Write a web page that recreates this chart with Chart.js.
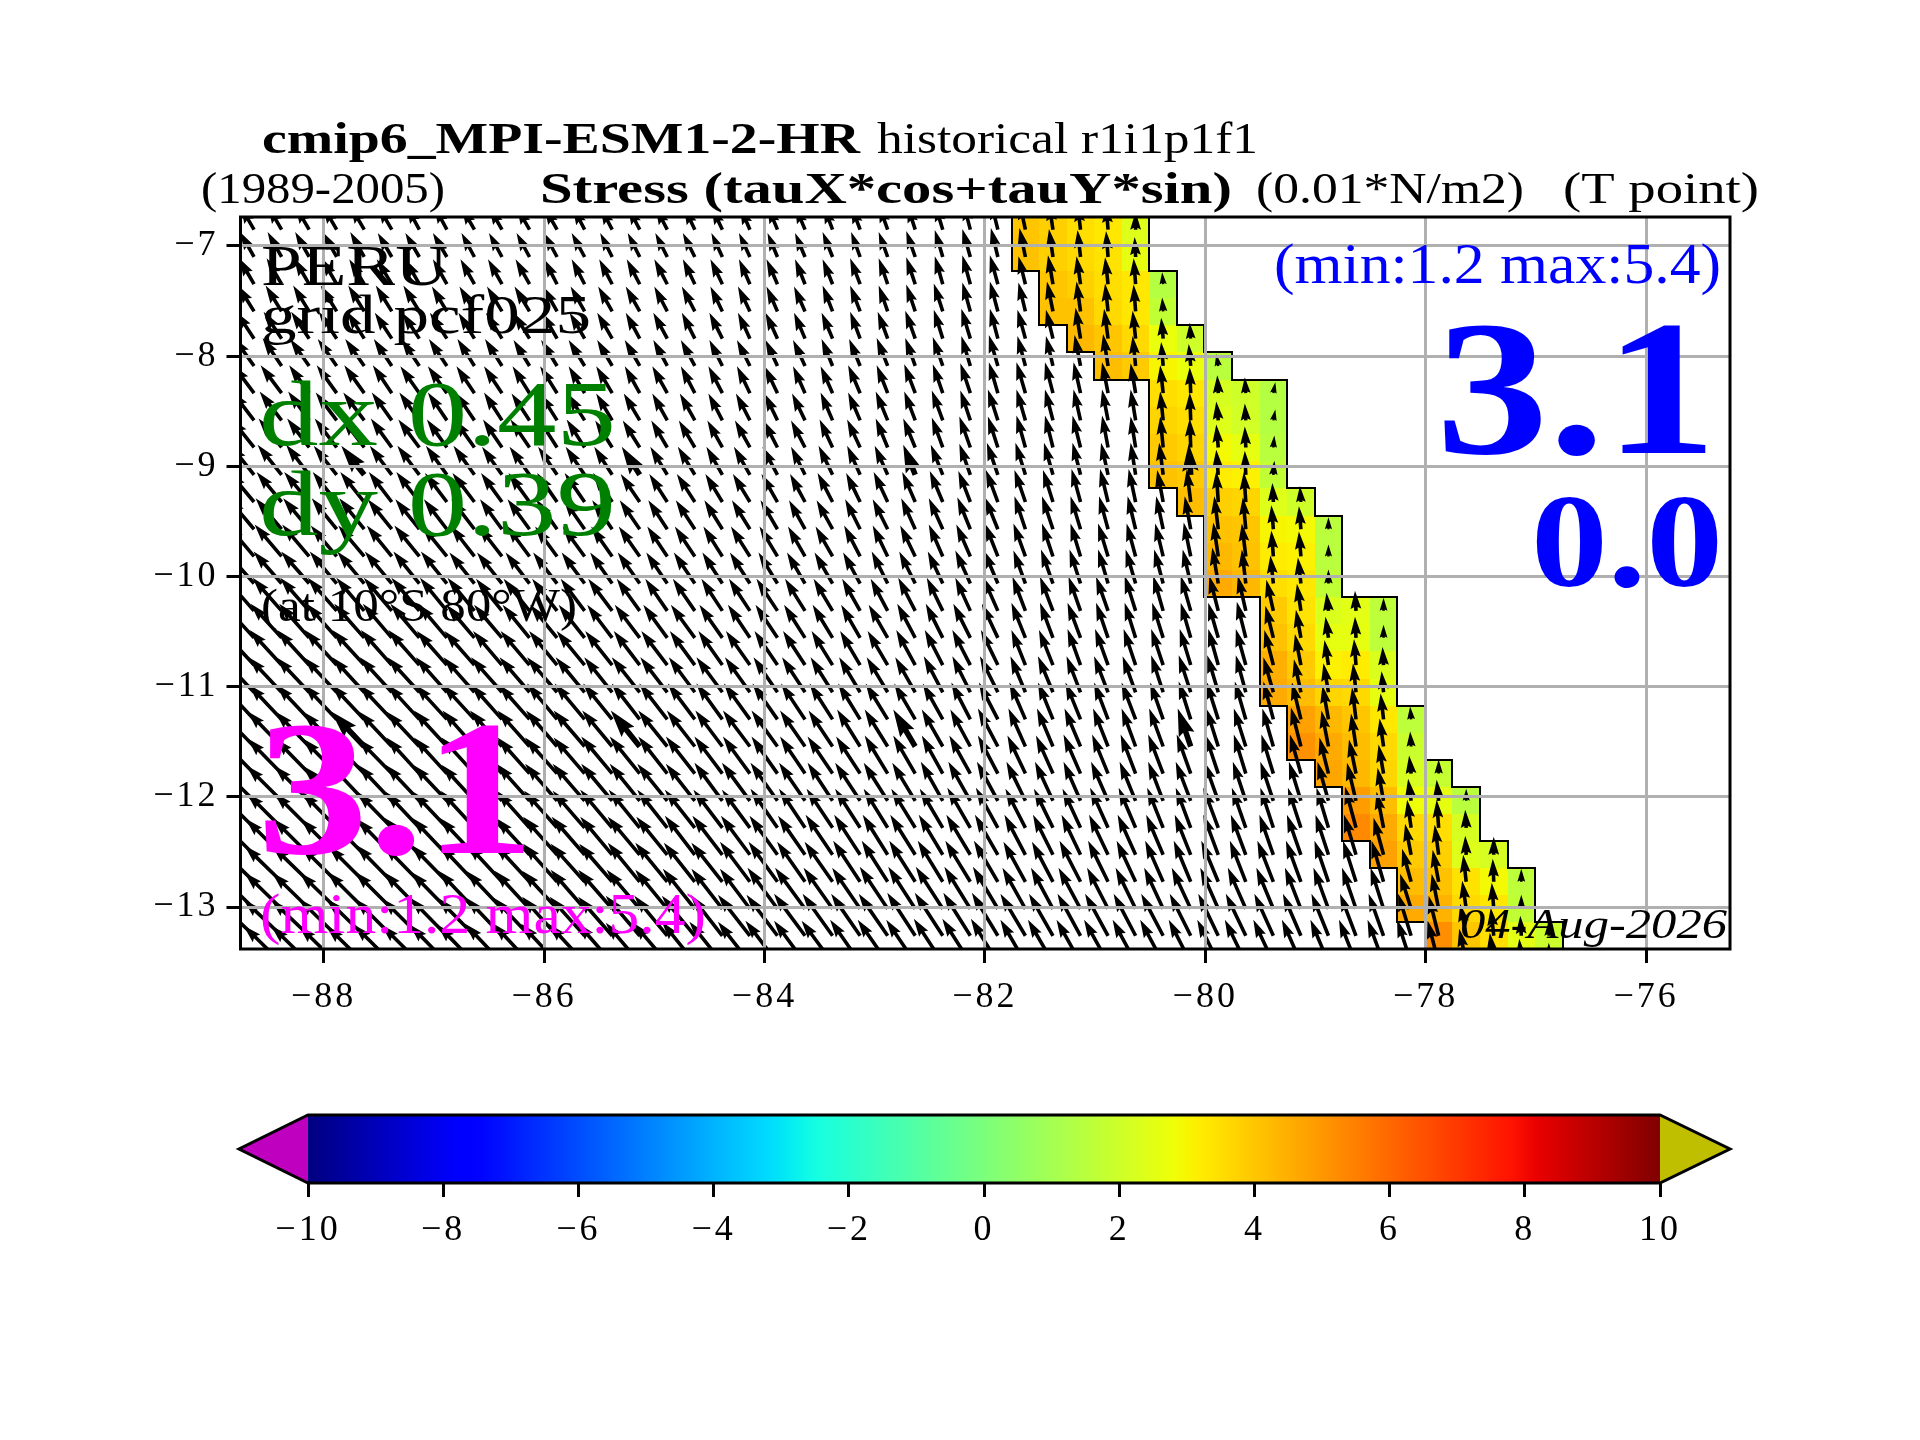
<!DOCTYPE html>
<html><head><meta charset="utf-8">
<script src="https://cdn.jsdelivr.net/npm/chart.js@4"></script>
<style>html,body{margin:0;padding:0;background:#fff}canvas{position:absolute;left:0;top:0}</style>
</head><body>
<canvas id="map" width="1920" height="1440"></canvas>
<canvas id="bar" width="1920" height="1440"></canvas>
<script>
const lonTicks=[-88,-86,-84,-82,-80,-78,-76];
const latTicks=[-13,-12,-11,-10,-9,-8,-7];
const barTicks=[-10,-8,-6,-4,-2,0,2,4,6,8,10];
const firstLon=-88.632, lonStep=0.25, coastCol=28;
const rowLat=[-6.852,-7.100,-7.347,-7.594,-7.841,-8.089,-8.336,-8.583,-8.829,-9.077,-9.324,-9.571,-9.818,-10.064,-10.312,-10.557,-10.804,-11.051,-11.297,-11.543,-11.789,-12.036,-12.281,-12.526,-12.771,-13.016,-13.261,-13.506];
const cellStart=[0,0,1,1,2,3,5,5,5,5,6,7,7,7,9,9,9,9,10,10,11,12,12,13,14,14,15];
const cellValues=[
[4.0,3.8,3.5,3.3,2.4],[4.1,3.8,3.6,3.4,2.6],[4.0,3.8,3.5,3.3,1.4],[4.1,4.1,3.6,3.3,1.7],[4.3,4.0,3.6,2.7,2.0],
[4.2,3.9,3.0,2.7,1.5],[3.5,3.3,2.2,2.0,1.4],[3.7,3.5,2.4,2.1,1.4],[3.9,3.7,2.9,2.6,1.5],[4.1,3.9,3.2,3.1,1.7],
[4.2,3.8,3.7,2.4,2.0],[4.1,4.0,3.0,2.9,1.5],[4.3,4.1,3.2,3.1,1.5],[4.6,4.3,3.5,3.3,1.7],[3.9,3.4,2.3,2.5,1.6],
[4.1,3.6,2.6,2.6,1.6],[4.5,3.9,3.1,3.2,2.3],[4.6,4.2,3.7,3.6,2.6],[4.8,4.3,4.0,3.3,1.6],[5.1,4.6,4.2,3.6,1.9],
[4.7,4.3,3.7,2.2,1.8],[4.9,4.2,2.8,2.6,1.5],[5.3,4.6,3.6,3.5,2.2],[4.8,3.9,3.8,2.4,2.2],[4.2,4.1,3.4,2.9,1.6],
[4.6,4.4,3.6,3.3,1.7],[5.2,4.0,3.5,2.5,1.9]];
const tauXOpen=[
[-14,-14,-14,-14,-14,-14,-13,-13,-13,-13,-13,-13,-12,-12,-12,-12,-11,-11,-10,-10,-10,-9,-9,-9,-8,-8,-7,-7],
[-14,-14,-14,-14,-14,-14,-14,-14,-13,-13,-13,-13,-13,-12,-12,-12,-12,-11,-11,-10,-10,-10,-9,-9,-9,-8,-8,-7],
[-15,-15,-15,-15,-15,-15,-14,-14,-14,-14,-14,-13,-13,-13,-13,-13,-12,-12,-11,-11,-10,-10,-10,-9,-9,-8,-8,-8],
[-16,-16,-16,-16,-16,-16,-16,-15,-15,-15,-15,-14,-14,-14,-14,-13,-13,-12,-12,-11,-11,-10,-10,-9,-9,-9,-8,-8],
[-18,-18,-18,-18,-17,-17,-17,-17,-16,-16,-16,-15,-15,-15,-14,-14,-13,-13,-12,-12,-11,-11,-10,-10,-10,-9,-9,-8],
[-20,-19,-19,-19,-19,-18,-18,-18,-17,-17,-16,-16,-16,-15,-15,-14,-14,-13,-13,-12,-12,-11,-11,-11,-10,-10,-9,-9],
[-21,-21,-20,-20,-20,-19,-19,-19,-18,-18,-17,-17,-16,-16,-15,-15,-14,-14,-13,-13,-12,-12,-12,-11,-11,-10,-10,-9],
[-22,-22,-21,-21,-21,-20,-20,-19,-19,-18,-18,-17,-17,-16,-16,-15,-15,-14,-14,-13,-13,-12,-12,-12,-11,-11,-10,-10],
[-23,-23,-22,-22,-22,-21,-21,-20,-20,-19,-19,-18,-18,-17,-17,-16,-16,-15,-15,-14,-14,-13,-13,-12,-12,-11,-11,-10],
[-24,-24,-23,-23,-23,-22,-22,-21,-21,-20,-20,-19,-19,-18,-18,-17,-17,-16,-16,-15,-14,-14,-13,-13,-12,-12,-11,-11],
[-25,-25,-25,-24,-24,-23,-23,-22,-22,-21,-21,-20,-20,-19,-19,-18,-18,-17,-17,-16,-15,-15,-14,-14,-13,-13,-12,-12],
[-26,-26,-26,-25,-25,-24,-24,-23,-23,-22,-22,-21,-21,-20,-20,-19,-19,-18,-18,-17,-16,-16,-15,-15,-14,-14,-13,-13],
[-27,-27,-27,-26,-26,-25,-25,-25,-24,-24,-23,-22,-22,-21,-21,-20,-20,-19,-19,-18,-17,-17,-16,-15,-15,-14,-14,-13],
[-28,-28,-28,-27,-27,-27,-26,-26,-25,-25,-24,-24,-23,-22,-22,-21,-21,-20,-20,-19,-18,-18,-17,-16,-16,-15,-15,-14],
[-29,-29,-29,-29,-28,-28,-28,-27,-27,-26,-26,-25,-24,-24,-23,-22,-22,-21,-21,-21,-20,-19,-18,-17,-17,-16,-15,-15],
[-31,-31,-30,-30,-30,-29,-29,-29,-28,-28,-27,-27,-26,-25,-25,-24,-24,-23,-22,-22,-21,-20,-19,-19,-18,-17,-17,-16],
[-32,-32,-32,-32,-32,-31,-31,-30,-30,-29,-29,-28,-28,-27,-26,-26,-25,-24,-24,-23,-22,-21,-20,-20,-19,-18,-18,-17],
[-33,-33,-33,-33,-32,-32,-32,-31,-31,-31,-30,-30,-29,-28,-28,-27,-26,-26,-25,-24,-23,-22,-21,-21,-20,-19,-18,-18],
[-33,-33,-33,-33,-33,-33,-32,-32,-32,-31,-31,-30,-30,-29,-28,-28,-27,-26,-26,-25,-24,-23,-22,-22,-21,-20,-19,-19],
[-34,-34,-34,-34,-33,-33,-33,-33,-32,-32,-32,-31,-31,-30,-29,-29,-28,-27,-27,-26,-25,-24,-23,-23,-22,-21,-20,-20],
[-34,-34,-34,-34,-34,-34,-33,-33,-33,-33,-32,-32,-31,-31,-30,-29,-29,-28,-27,-26,-25,-25,-24,-23,-22,-21,-21,-20],
[-35,-35,-35,-34,-34,-34,-34,-34,-33,-33,-33,-32,-32,-31,-30,-30,-29,-28,-28,-27,-26,-25,-25,-24,-23,-22,-22,-21],
[-35,-35,-35,-35,-35,-35,-34,-34,-34,-34,-33,-33,-32,-32,-31,-30,-30,-29,-28,-27,-26,-26,-25,-24,-24,-23,-23,-22],
[-36,-36,-36,-36,-35,-35,-35,-35,-35,-34,-34,-34,-33,-32,-32,-31,-30,-30,-29,-28,-27,-27,-26,-25,-25,-24,-24,-23],
[-37,-37,-37,-36,-36,-36,-36,-36,-35,-35,-35,-34,-34,-33,-32,-32,-31,-31,-30,-29,-28,-28,-27,-26,-26,-25,-25,-24],
[-37,-37,-37,-37,-37,-37,-36,-36,-36,-36,-35,-35,-34,-34,-33,-32,-32,-31,-30,-30,-30,-29,-28,-28,-27,-27,-26,-25],
[-38,-38,-38,-38,-38,-37,-37,-37,-37,-36,-36,-35,-35,-34,-34,-33,-33,-32,-32,-31,-31,-30,-29,-29,-28,-28,-27,-26],
[-38,-38,-38,-38,-38,-38,-38,-37,-37,-37,-36,-36,-36,-35,-34,-34,-33,-33,-32,-32,-31,-31,-30,-30,-29,-29,-28,-27]];
const tauYOpen=[
[24,24,24,24,24,24,24,24,23,23,23,23,23,23,23,23,23,23,23,24,24,24,24,25,25,26,27,28],
[25,25,25,25,25,24,24,24,24,24,24,24,24,24,24,24,24,24,24,24,24,25,25,25,26,27,28,29],
[26,26,26,26,25,25,25,25,25,25,25,25,25,25,25,25,25,25,25,25,25,25,26,26,27,28,29,29],
[26,26,26,26,26,26,26,25,25,25,25,25,25,25,25,25,25,25,25,25,25,26,26,26,27,28,29,30],
[27,27,27,27,27,26,26,26,26,26,26,26,26,26,26,26,26,26,26,26,26,26,27,27,28,29,30,30],
[28,28,27,27,27,27,27,27,27,27,26,26,26,26,26,26,26,26,26,26,26,27,27,28,28,29,30,31],
[28,28,28,28,28,28,27,27,27,27,27,27,27,27,27,27,27,27,27,27,27,27,28,28,29,29,30,31],
[29,29,29,28,28,28,28,28,28,28,27,27,27,27,27,27,27,27,27,27,27,28,28,29,29,30,30,31],
[29,29,29,29,29,29,28,28,28,28,28,28,28,27,27,27,27,27,27,27,27,28,28,29,29,30,31,31],
[30,30,30,29,29,29,29,29,29,28,28,28,28,28,28,28,28,28,28,28,28,29,29,29,30,30,31,32],
[30,30,30,30,30,30,30,29,29,29,29,29,29,29,28,28,28,28,28,28,28,29,29,30,30,31,31,32],
[31,31,31,31,31,30,30,30,30,30,30,30,30,29,29,29,29,29,29,29,29,29,30,30,31,31,32,32],
[32,32,32,31,31,31,31,31,31,31,31,30,30,30,30,30,30,30,30,30,30,30,31,31,31,32,32,33],
[32,32,32,32,32,32,32,32,31,31,31,31,31,31,31,31,31,31,31,31,31,31,31,32,32,32,33,33],
[33,33,33,33,33,33,33,33,33,32,32,32,32,32,32,32,32,32,32,32,32,32,32,32,33,33,33,34],
[34,34,34,34,34,34,34,34,33,33,33,33,33,33,33,33,33,33,33,33,33,33,33,33,34,34,34,34],
[35,35,35,35,35,35,35,34,34,34,34,34,34,34,34,34,34,34,34,34,34,34,34,34,35,35,35,35],
[35,35,35,35,35,35,35,35,35,35,35,35,35,35,35,35,35,35,35,35,35,35,35,35,35,36,36,36],
[35,35,35,35,35,35,35,35,35,35,35,36,36,36,36,36,36,36,36,36,36,36,36,36,36,36,37,37],
[35,35,35,35,35,35,35,36,36,36,36,36,36,36,36,36,36,36,36,36,36,36,37,37,37,37,37,38],
[35,35,35,35,35,35,36,36,36,36,36,36,36,37,37,37,37,37,37,37,37,37,37,38,38,38,38,38],
[35,35,35,35,36,36,36,36,36,36,37,37,37,37,37,37,37,38,38,38,38,38,38,38,38,39,39,39],
[35,35,35,36,36,36,36,36,37,37,37,37,37,38,38,38,38,38,38,39,39,39,39,39,39,39,40,40],
[36,36,36,36,36,36,37,37,37,37,37,38,38,38,38,38,39,39,39,39,39,40,40,40,40,40,40,40],
[36,36,36,36,36,37,37,37,37,38,38,38,38,38,39,39,39,39,40,40,40,40,41,41,41,41,41,41],
[36,36,36,36,37,37,37,37,38,38,38,38,39,39,39,39,40,40,40,41,41,41,41,42,42,42,42,42],
[36,36,36,37,37,37,37,38,38,38,38,39,39,39,40,40,40,41,41,41,42,42,42,42,43,43,43,43],
[36,37,37,37,37,38,38,38,38,39,39,39,39,40,40,40,41,41,41,42,42,42,43,43,43,44,44,44]];
const tauXCoast=[
[-6,-4,-3,-2,0],[-6,-4,-3,-2,-1],[-7,-5,-4,-3,-2,-1],[-7,-6,-4,-3,-2,-1],[-8,-7,-5,-4,-3,-2,-1],
[-8,-7,-6,-5,-3,-2,-2,-2],[-9,-8,-7,-6,-5,-3,-1,-1,-1,2],[-9,-8,-7,-6,-5,-3,-1,-2,-1,2],[-9,-8,-8,-6,-5,-3,-1,-2,-1,1],[-10,-9,-8,-7,-5,-4,-2,-2,-1,1],
[-11,-10,-9,-8,-7,-6,-4,-2,-2,-1,-1],[-11,-11,-10,-9,-8,-7,-6,-4,-3,-2,-2,0],[-12,-11,-10,-10,-9,-8,-7,-5,-4,-2,-2,0],[-12,-12,-11,-10,-10,-9,-8,-6,-4,-3,-3,0],
[-13,-13,-12,-12,-11,-10,-10,-9,-8,-7,-4,-2,-1,0],[-14,-13,-13,-12,-11,-11,-10,-10,-9,-8,-5,-3,-1,0],[-14,-14,-13,-13,-12,-12,-11,-10,-10,-9,-6,-4,-2,-1],[-15,-15,-14,-14,-13,-12,-12,-11,-10,-10,-7,-5,-3,-2],
[-16,-15,-15,-14,-14,-13,-12,-12,-11,-10,-9,-6,-4,-3,-1],[-17,-16,-16,-15,-14,-14,-13,-12,-12,-11,-10,-7,-5,-4,-1],
[-18,-17,-17,-16,-15,-15,-14,-13,-12,-12,-11,-9,-7,-5,-2,0],[-19,-18,-17,-17,-16,-15,-15,-14,-13,-13,-12,-11,-9,-6,-3,-2,0],[-20,-19,-18,-18,-17,-16,-15,-15,-14,-13,-13,-12,-11,-7,-4,-2,-1],
[-21,-20,-19,-19,-18,-17,-16,-15,-15,-14,-14,-13,-12,-10,-6,-4,-1,0],[-22,-21,-21,-20,-19,-18,-17,-17,-16,-16,-15,-14,-13,-12,-9,-6,-3,-1,0],[-23,-22,-22,-21,-20,-19,-19,-18,-18,-17,-16,-15,-14,-13,-11,-7,-4,-2,0],
[-25,-24,-23,-23,-22,-22,-21,-20,-20,-19,-18,-17,-16,-15,-13,-10,-6,-3,-1,0],[-25,-25,-24,-24,-23,-23,-22,-21,-21,-20,-19,-18,-17,-16,-14,-11,-7,-4,-2,0]];
const tauYCoast=[
[28,27,26,25,18],[29,28,27,26,20],[28,29,28,27,26,12],[29,30,30,28,27,14],[29,29,31,30,28,21,16],
[30,30,31,32,30,24,22,12],[31,31,31,31,30,28,26,18,16,11],[31,31,31,31,31,29,28,19,17,11],[32,32,32,32,31,31,29,23,21,12],[32,32,32,32,32,32,31,25,24,14],
[32,32,33,33,33,32,33,31,30,19,16],[33,33,33,33,33,33,33,33,32,24,23,12],[33,33,33,33,33,33,34,34,33,26,25,12],[33,34,34,34,34,34,34,36,34,28,26,14],
[34,34,34,34,35,35,35,35,35,31,27,18,20,13],[35,35,35,35,35,35,35,35,36,32,28,21,21,13],[35,35,36,36,36,36,36,36,36,35,31,25,26,18],[36,36,36,36,36,37,37,37,37,35,33,29,29,21],
[37,37,37,37,37,37,38,38,38,38,37,34,32,26,13],[38,38,38,38,38,38,38,38,38,38,39,36,33,28,15],
[38,38,39,39,39,39,39,39,39,39,39,36,34,29,18,14],[39,39,39,39,39,39,39,39,39,39,39,39,38,33,22,21,12],[39,39,39,40,40,40,40,40,40,40,40,40,41,36,28,28,18],
[40,40,40,40,40,40,40,40,40,40,40,40,40,37,31,30,19,18],[40,40,41,41,41,41,41,41,41,41,41,41,41,41,33,32,27,23,13],[41,41,41,41,41,41,41,41,41,41,41,41,41,41,35,35,28,26,14],
[42,42,42,42,42,42,42,42,42,42,42,42,42,42,42,40,32,28,20,15],[43,43,43,43,43,43,43,43,43,43,43,43,43,43,43,42,34,30,24,20]];
const wideCols=[4,14,24,34], wideRows=[9,19];

const serif='"Liberation Serif"';
const labels=[
 {t:'cmip6_MPI-ESM1-2-HR',x0:262,x1:860,y:153,f:'bold 44px',c:'#000'},
 {t:'historical r1i1p1f1',x0:877,x1:1258,y:153,f:'44px',c:'#000'},
 {t:'(1989-2005)',x0:201,x1:445,y:203,f:'44px',c:'#000'},
 {t:'Stress (tauX*cos+tauY*sin)',x0:540,x1:1232,y:203,f:'bold 44px',c:'#000'},
 {t:'(0.01*N/m2)',x0:1256,x1:1524,y:203,f:'44px',c:'#000'},
 {t:'(T point)',x0:1563,x1:1759,y:203,f:'44px',c:'#000'},
 {t:'PERU',x0:261,x1:448,y:285,f:'58px',c:'#000'},
 {t:'grid pcf025',x0:261,x1:591,y:333,f:'54px',c:'#000'},
 {t:'dx 0.45',x0:259,x1:616,y:445,f:'93px',c:'#008000'},
 {t:'dy 0.39',x0:259,x1:616,y:535,f:'93px',c:'#008000'},
 {t:'(at 10°S 80°W)',x0:261,x1:577,y:621,f:'47px',c:'#000'},
 {t:'3.1',x0:257,x1:535,y:853,f:'bold 192px',c:'#ff00ff'},
 {t:'(min:1.2 max:5.4)',x0:260,x1:706,y:933,f:'56px',c:'#ff00ff'},
 {t:'(min:1.2 max:5.4)',x0:1274,x1:1721,y:283,f:'56px',c:'#0000ff'},
 {t:'3.1',x0:1436,x1:1717,y:453,f:'bold 192px',c:'#0000ff'},
 {t:'0.0',x0:1531,x1:1723,y:586,f:'bold 133px',c:'#0000ff'},
 {t:'04-Aug-2026',x0:1460,x1:1727,y:938,f:'italic 42px',c:'#000'}];

function lerp(a,b,t){return a+(b-a)*t}
function seg(t,p){for(let i=1;i<p.length;i++){if(t<=p[i][0]){return lerp(p[i-1][1],p[i][1],(t-p[i-1][0])/(p[i][0]-p[i-1][0]))}}return p[p.length-1][1]}
const jR=[[0,0],[.35,0],[.66,1],[.89,1],[1,.5]],jG=[[0,0],[.125,0],[.375,1],[.64,1],[.91,0],[1,0]],jB=[[0,.5],[.11,1],[.34,1],[.65,0],[1,0]];
function jet(v){const t=Math.max(0,Math.min(1,(v+10)/20));return `rgb(${Math.round(255*seg(t,jR))},${Math.round(255*seg(t,jG))},${Math.round(255*seg(t,jB))})`}

const arrowPoints=[],cellPoints=[];
rowLat.forEach((lat,n)=>{
  tauXOpen[n].forEach((u,a)=>arrowPoints.push({x:firstLon+a*lonStep,y:lat,u,v:tauYOpen[n][a],col:a,row:n}));
  tauXCoast[n].forEach((u,i)=>arrowPoints.push({x:firstLon+(coastCol+i)*lonStep,y:lat,u,v:tauYCoast[n][i],col:coastCol+i,row:n}));
});
cellValues.forEach((vals,n)=>vals.forEach((v,k)=>cellPoints.push({x:firstLon+(coastCol+cellStart[n]+k)*lonStep,y:rowLat[n],v,row:n,col:cellStart[n]+k})));

function rowEdge(n){ if(n<=0) return rowLat[0]+(rowLat[0]-rowLat[1])/2; return (rowLat[n-1]+rowLat[n])/2; }
function colored(n,c){return n>=0&&n<cellValues.length&&c>=cellStart[n]&&c<cellStart[n]+5}

function drawArrow(ctx,x,y,u,v,w){
  const L=Math.hypot(u,v); if(L<=0) return;
  const hl=5*w, k=L<hl?L/hl:1;
  const sw=w*k, hw=3*w*k, hb=5*w*k, ha=4.5*w*k;
  ctx.save();ctx.translate(x,y);ctx.rotate(Math.atan2(-v,u));
  ctx.beginPath();
  ctx.moveTo(0,-sw/2);ctx.lineTo(L-ha,-sw/2);ctx.lineTo(L-hb,-hw/2);ctx.lineTo(L,0);
  ctx.lineTo(L-hb,hw/2);ctx.lineTo(L-ha,sw/2);ctx.lineTo(0,sw/2);ctx.closePath();
  ctx.fillStyle='#000';ctx.fill();ctx.restore();
}
function fitText(ctx,l){
  ctx.save();ctx.letterSpacing='0px';ctx.font=l.f+' '+serif;ctx.fillStyle=l.c;ctx.textBaseline='alphabetic';ctx.textAlign='left';
  const w=ctx.measureText(l.t).width;
  ctx.translate(l.x0,l.y);ctx.scale((l.x1-l.x0)/w,1);ctx.fillText(l.t,0,0);ctx.restore();
}
const mapPlugin={id:'mapMarks',
  beforeDraw(chart){chart.ctx.letterSpacing='3px'},
  beforeDatasetsDraw(chart){
    const {ctx,chartArea:a,scales:{x,y}}=chart;
    ctx.save();ctx.beginPath();ctx.rect(a.left,a.top,a.width,a.height);ctx.clip();
    const cells=chart.data.datasets[0].data;
    cells.forEach(p=>{
      const x0=Math.round(x.getPixelForValue(p.x-lonStep/2)),x1=Math.round(x.getPixelForValue(p.x+lonStep/2));
      const y0=Math.round(y.getPixelForValue(rowEdge(p.row))),y1=Math.round(y.getPixelForValue(rowEdge(p.row+1)));
      ctx.fillStyle=jet(p.v);ctx.fillRect(x0,y0,x1-x0,y1-y0);
    });
    ctx.strokeStyle='#000';ctx.lineWidth=2;ctx.lineCap='square';ctx.beginPath();
    cells.forEach(p=>{
      const x0=Math.round(x.getPixelForValue(p.x-lonStep/2)),x1=Math.round(x.getPixelForValue(p.x+lonStep/2));
      const y0=Math.round(y.getPixelForValue(rowEdge(p.row))),y1=Math.round(y.getPixelForValue(rowEdge(p.row+1)));
      if(!colored(p.row,p.col-1)){ctx.moveTo(x0,y0);ctx.lineTo(x0,y1)}
      if(!colored(p.row,p.col+1)){ctx.moveTo(x1,y0);ctx.lineTo(x1,y1)}
      if(!colored(p.row-1,p.col)){ctx.moveTo(x0,y0);ctx.lineTo(x1,y0)}
      if(!colored(p.row+1,p.col)){ctx.moveTo(x0,y1);ctx.lineTo(x1,y1)}
    });
    ctx.stroke();
    chart.data.datasets[1].data.forEach(p=>{
      const wide=wideCols.includes(p.col)&&wideRows.includes(p.row);
      drawArrow(ctx,x.getPixelForValue(p.x),y.getPixelForValue(p.y),p.u,p.v,wide?5.5:3.6);
    });
    ctx.restore();
  },
  afterDraw(chart){
    const {ctx,chartArea:a}=chart;
    ctx.save();ctx.strokeStyle='#000';ctx.lineWidth=3;ctx.strokeRect(a.left,a.top,a.width,a.height);ctx.restore();
    labels.forEach(l=>fitText(ctx,l));
  }};
const tickFont={family:'Liberation Serif',size:36};
const minus=v=>String(v).replace('-','\u2212');
new Chart(document.getElementById('map'),{
  type:'scatter',plugins:[mapPlugin],
  data:{datasets:[{label:'stress cells',data:cellPoints,pointRadius:0},{label:'stress arrows',data:arrowPoints,pointRadius:0}]},
  options:{responsive:false,animation:false,devicePixelRatio:1,
    layout:{padding:{top:217,right:190,left:0,bottom:0}},
    plugins:{legend:{display:false},tooltip:{enabled:false},title:{display:false}},
    scales:{
      x:{type:'linear',min:-88.755,max:-75.238,
        afterBuildTicks:s=>{s.ticks=lonTicks.map(value=>({value}))},
        afterFit:s=>{s.height=491},
        border:{display:false},
        grid:{z:1,color:'#b0b0b0',lineWidth:3,tickColor:'#000',tickWidth:3,tickLength:14},
        ticks:{font:tickFont,color:'#000',padding:13,maxRotation:0,autoSkip:false,callback:minus}},
      y:{type:'linear',min:-13.381,max:-6.737,
        afterBuildTicks:s=>{s.ticks=latTicks.map(value=>({value}))},
        afterFit:s=>{s.width=240.5},
        border:{display:false},
        grid:{z:1,color:'#b0b0b0',lineWidth:3,tickColor:'#000',tickWidth:3,tickLength:14},
        ticks:{font:tickFont,color:'#000',padding:8,autoSkip:false,callback:minus}}
    }}});

const barPlugin={id:'barEnds',
 beforeDraw(chart){chart.ctx.letterSpacing='3px'},
 afterDatasetsDraw(chart){
  const {ctx,chartArea:a}=chart;const mid=(a.top+a.bottom)/2;const tipL=239,tipR=1730;
  ctx.save();
  ctx.fillStyle='rgb(191,0,191)';ctx.beginPath();ctx.moveTo(a.left,a.top);ctx.lineTo(tipL,mid);ctx.lineTo(a.left,a.bottom);ctx.closePath();ctx.fill();
  ctx.fillStyle='rgb(191,191,0)';ctx.beginPath();ctx.moveTo(a.right,a.top);ctx.lineTo(tipR,mid);ctx.lineTo(a.right,a.bottom);ctx.closePath();ctx.fill();
  ctx.strokeStyle='#000';ctx.lineWidth=3;ctx.lineJoin='miter';ctx.beginPath();
  ctx.moveTo(a.left,a.top);ctx.lineTo(a.right,a.top);ctx.lineTo(tipR,mid);ctx.lineTo(a.right,a.bottom);ctx.lineTo(a.left,a.bottom);ctx.lineTo(tipL,mid);ctx.closePath();ctx.stroke();
  ctx.restore();
}};
new Chart(document.getElementById('bar'),{
  type:'bar',plugins:[barPlugin],
  data:{labels:['colour scale'],datasets:[{label:'colour scale',data:[[-10,10]],barPercentage:1,categoryPercentage:1,borderWidth:0,
    backgroundColor(c){
      const {ctx,chartArea:a}=c.chart; if(!a) return '#000';
      const g=ctx.createLinearGradient(a.left,0,a.right,0);
      for(let k=0;k<=100;k++){g.addColorStop(k/100,jet(-10+k/5))}
      return g;
    }}]},
  options:{indexAxis:'y',responsive:false,animation:false,devicePixelRatio:1,
    layout:{padding:{top:1115,left:308,right:260,bottom:0}},
    plugins:{legend:{display:false},tooltip:{enabled:false}},
    scales:{
      x:{type:'linear',min:-10,max:10,
        afterBuildTicks:s=>{s.ticks=barTicks.map(value=>({value}))},
        afterFit:s=>{s.height=257},
        border:{display:false},
        grid:{drawOnChartArea:false,tickColor:'#000',tickWidth:3,tickLength:14},
        ticks:{font:tickFont,color:'#000',padding:12,maxRotation:0,autoSkip:false,callback:minus}},
      y:{display:false}
    }}});
</script>
</body></html>
